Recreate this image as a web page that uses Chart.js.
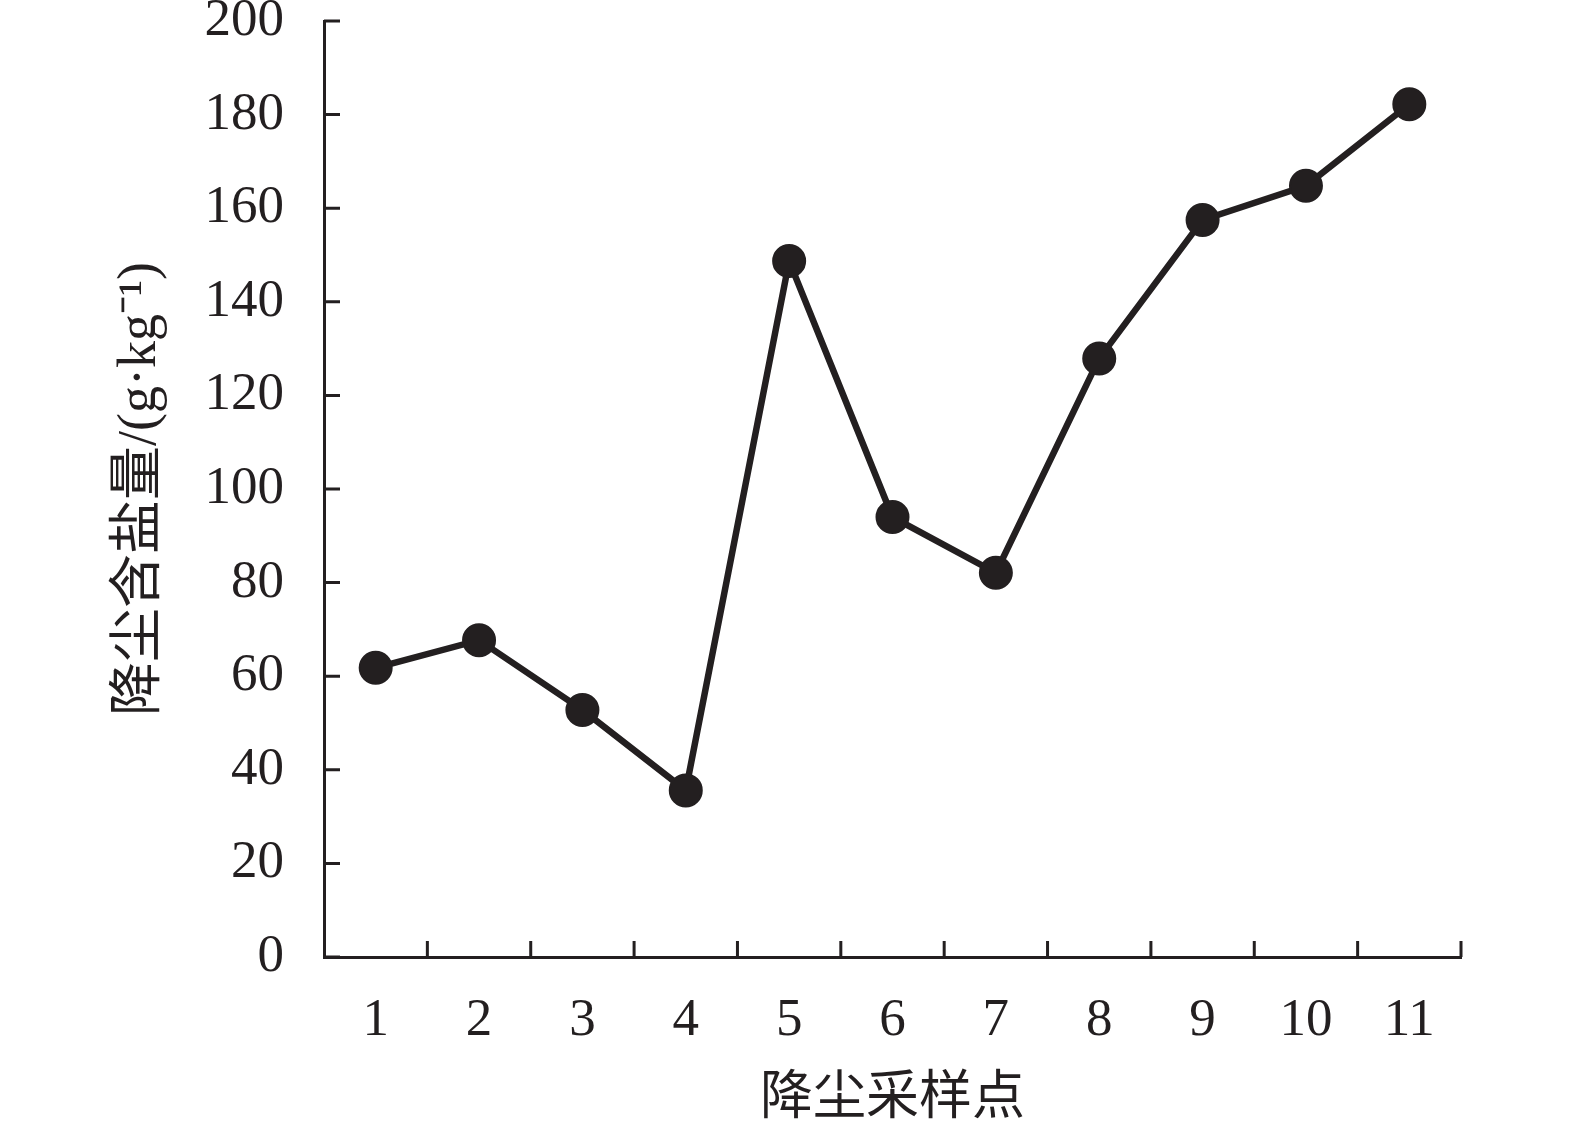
<!DOCTYPE html>
<html lang="zh">

<head>
    <meta charset="UTF-8" />
    <title>降尘含盐量</title>
    <style>
        body {
            margin: 0;
            padding: 0;
            background: #fff;
        }

        #wrap {
            width: 1575px;
            height: 1132px;
        }
    </style>
    <script src="https://cdn.jsdelivr.net/npm/chart.js"></script>
</head>

<body>

    <div id="wrap">
        <canvas id="saltChart" width="1575" height="1132"></canvas>
    </div>

    <script>
        // Données
        const sites = ['1', '2', '3', '4', '5', '6', '7', '8', '9', '10', '11'];
        const saltValues = [61.8, 67.7, 52.8, 35.6, 148.7, 94, 82.1, 127.9, 157.5, 164.8, 182.2];
        const yTicks = [0, 20, 40, 60, 80, 100, 120, 140, 160, 180, 200];

        const ink = '#231f20';
        const serif = "'Liberation Serif', 'Noto Sans CJK SC', serif";

        // petits traits d'axe vers l'intérieur
        const innerTicks = {
            id: 'innerTicks',
            afterDraw(chart) {
                const ctx = chart.ctx;
                const area = chart.chartArea;
                const xs = chart.scales.x;
                const ys = chart.scales.y;
                const len = 16;
                ctx.save();
                ctx.strokeStyle = ink;
                ctx.lineWidth = 3;
                ctx.beginPath();
                ys.ticks.forEach(t => {
                    const y = ys.getPixelForValue(t.value);
                    ctx.moveTo(area.left, y);
                    ctx.lineTo(area.left + len, y);
                });
                const half = (xs.getPixelForValue(1) - xs.getPixelForValue(0)) / 2;
                for (let i = 0; i < sites.length; i++) {
                    const x = xs.getPixelForValue(i) + half;
                    ctx.moveTo(x, area.bottom);
                    ctx.lineTo(x, area.bottom - len);
                }
                ctx.stroke();
                ctx.restore();
            }
        };

        new Chart(document.getElementById('saltChart').getContext('2d'), {
            type: 'line',
            data: {
                labels: sites,
                datasets: [{
                    data: saltValues,
                    borderColor: ink,
                    backgroundColor: ink,
                    borderWidth: 6.5,
                    pointRadius: 16,
                    pointBorderWidth: 2,
                    pointBackgroundColor: ink,
                    pointBorderColor: ink,
                    tension: 0,
                    fill: false
                }]
            },
            options: {
                responsive: false,
                devicePixelRatio: 1,
                animation: false,
                layout: {
                    padding: { top: 21, right: 114, bottom: 0, left: 108 }
                },
                plugins: {
                    legend: { display: false },
                    tooltip: { enabled: false }
                },
                scales: {
                    x: {
                        type: 'category',
                        offset: true,
                        grid: { display: false, drawTicks: false },
                        border: { display: true, color: ink, width: 3 },
                        ticks: {
                            color: ink,
                            padding: 32,
                            maxRotation: 0,
                            font: { family: serif, size: 53, lineHeight: 1.2 }
                        },
                        title: {
                            display: true,
                            text: '降尘采样点',
                            color: ink,
                            padding: 0,
                            font: { family: serif, size: 53, lineHeight: 1.2 }
                        },
                        afterFit(scale) {
                            scale.height = 1132 - 957;
                            scale.paddingLeft = 0;
                            scale.paddingRight = 0;
                        }
                    },
                    y: {
                        min: 0,
                        max: 200,
                        afterBuildTicks(scale) {
                            scale.ticks = yTicks.map(v => ({ value: v }));
                        },
                        grid: { display: false, drawTicks: false },
                        border: { display: true, color: ink, width: 3 },
                        ticks: {
                            color: ink,
                            padding: 40,
                            font: { family: serif, size: 53, lineHeight: 1.2 }
                        },
                        title: {
                            display: true,
                            text: '降尘含盐量/(g·kg⁻¹)',
                            color: ink,
                            padding: 0,
                            font: { family: serif, size: 54, lineHeight: 1.2 }
                        },
                        afterFit(scale) {
                            scale.width = 324 - 108;
                            scale.paddingTop = 0;
                            scale.paddingBottom = 0;
                        }
                    }
                }
            },
            plugins: [innerTicks]
        });
    </script>
</body>

</html>
